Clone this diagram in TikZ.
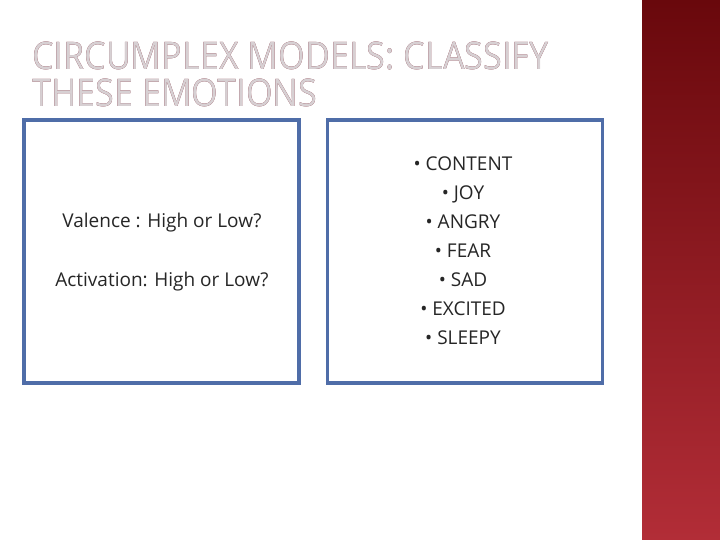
\documentclass[tikz,border=0pt]{standalone}
\usepackage{fontspec}
\setmainfont{Open Sans}
\usepackage{graphicx}
\usepackage[outline]{contour}
\contourlength{0.9pt}
\usetikzlibrary{positioning}
\definecolor{framblue}{RGB}{79,109,168}
\definecolor{titlered}{RGB}{110,20,35}
\definecolor{titlefill}{RGB}{215,208,211}
\definecolor{panetop}{RGB}{105,8,12}
\definecolor{panebot}{RGB}{178,45,55}
\newcommand{\hollowtitle}[1]{\scalebox{0.9}[1]{\contour{titlered}{\color{titlefill}#1}}}
\tikzset{
    % frames of the two boxes
    framebox/.style={
    rectangle,
    draw=framblue,
    line width=3.2pt,
    minimum width=275pt,
    minimum height=263pt,
    inner sep=0pt,
    },
    bodytext/.style={
    font=\fontsize{19pt}{29pt}\selectfont,
    text=black!85,
    align=center,
    },
    titletext/.style={
    font=\fontsize{38pt}{40pt}\selectfont,
    anchor=base west,
    inner sep=0pt,
    },
}
\begin{document}
\begin{tikzpicture}[x=1pt,y=-1pt]
    \useasboundingbox (0,0) rectangle (720,540);
    \fill[white] (0,0) rectangle (720,540);
    \shade[top color=panetop,bottom color=panebot] (642,0) rectangle (720,540);

    \node (titleA) [titletext] at (32,70)  {\hollowtitle{CIRCUMPLEX MODELS: CLASSIFY}};
    \node (titleB) [titletext] at (32,107) {\hollowtitle{THESE EMOTIONS}};

    \node (left)  [framebox] at (161.5,251.5) {};
    \node (right) [framebox,right=25pt of left] {};

    \node (valence) [bodytext] at (162,223) {Valence : High or Low?};
    \node (activ)   [bodytext] at (162,282) {Activation: High or Low?};
    \node (list)    [bodytext] at (463,251) {%
        • CONTENT\\ • JOY\\ • ANGRY\\ • FEAR\\ • SAD\\ • EXCITED\\ • SLEEPY};
\end{tikzpicture}
\end{document}
